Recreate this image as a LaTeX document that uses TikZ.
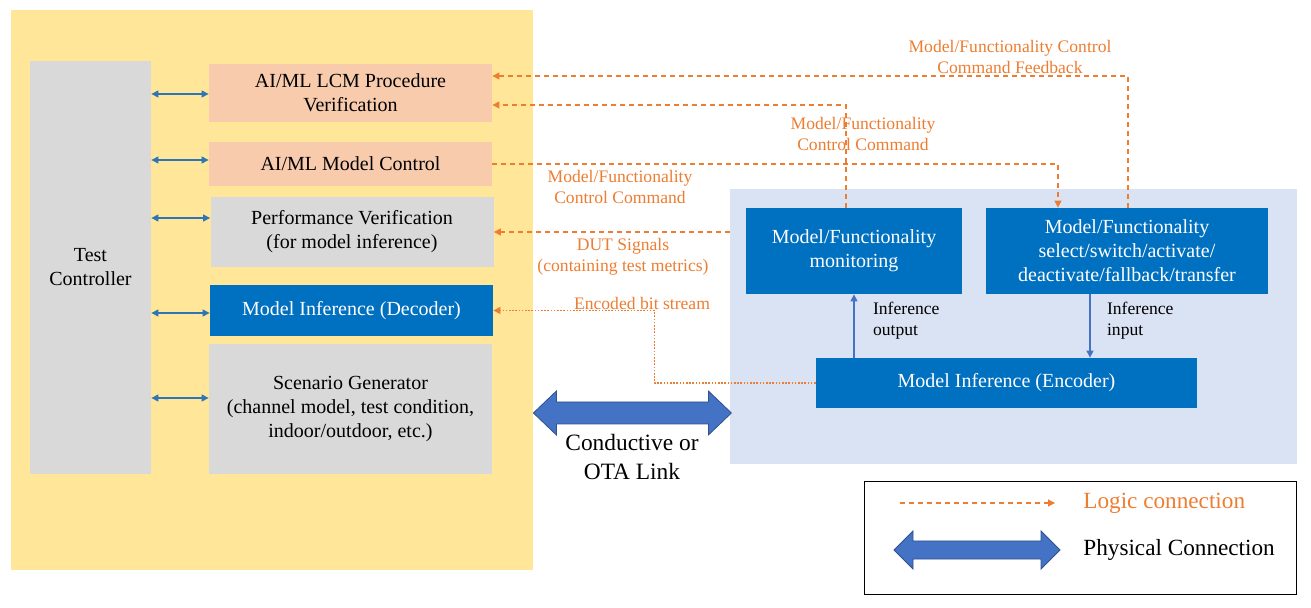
\documentclass[tikz,border=0pt]{standalone}
\usepackage{fontspec}
\setmainfont{Liberation Serif}
\usetikzlibrary{arrows.meta}

\definecolor{panelyellow}{HTML}{FFE699}
\definecolor{panelblue}{HTML}{DAE3F3}
\definecolor{boxpink}{HTML}{F8CBAD}
\definecolor{boxgray}{HTML}{D9D9D9}
\definecolor{boxblue}{HTML}{0070C0}
\definecolor{logicorange}{HTML}{ED7D31}
\definecolor{linkblue}{HTML}{2E75B6}
\definecolor{fatblue}{HTML}{4472C4}
\definecolor{fatedge}{HTML}{2F528F}

\begin{document}
\begin{tikzpicture}[x=0.5pt,y=-0.5pt,
    box/.style={inner sep=0pt, align=center, font=\fontsize{10}{12}\selectfont},
    pinkbox/.style={box, fill=boxpink, minimum width=141.5pt},
    graybox/.style={box, fill=boxgray, minimum width=141.5pt},
    bluebox/.style={box, fill=boxblue, text=white},
    orangetext/.style={align=center, text=logicorange, font=\fontsize{8.8}{10.3}\selectfont},
    blacktext/.style={align=left, font=\fontsize{8.8}{10.5}\selectfont},
    linkarrow/.style={linkblue, line width=0.6pt, {Triangle[length=3.5pt,width=3.5pt]}-{Triangle[length=3.5pt,width=3.5pt]}},
    logic/.style={logicorange, line width=0.6pt, dash pattern=on 2.5pt off 2pt, -{Triangle[length=3.5pt,width=3.5pt]}},
    bitlogic/.style={logicorange, line width=0.6pt, dash pattern=on 0.8pt off 0.8pt, -{Triangle[length=3.5pt,width=3.5pt]}},
    infarrow/.style={fatblue, line width=0.6pt, -{Triangle[length=3.5pt,width=3.5pt]}},
    fatarrow/.style={fill=fatblue, draw=fatedge, line width=0.4pt, line join=miter}]

\useasboundingbox (0,0) rectangle (1311,608);

% panels
\node[fill=panelyellow, minimum width=261pt, minimum height=280pt, inner sep=0pt] (yel) at (272,290) {};
\node[fill=panelblue, minimum width=283.5pt, minimum height=137.5pt, inner sep=0pt] (panel) at (1013.5,326.5) {};

% test equipment side
\node[box, fill=boxgray, minimum width=60.5pt, minimum height=206.5pt] (tc) at (90.5,267.5) {Test\\Controller};
\node[pinkbox, minimum height=29pt] (lcm) at (350.5,93) {AI/ML LCM Procedure\\Verification};
\node[pinkbox, minimum height=22pt] (ctrl) at (350.5,164) {AI/ML Model Control};
\node[graybox, minimum height=35pt] (perf) at (352,232) {Performance Verification\\(for model inference)};
\node[bluebox, minimum width=141.5pt, minimum height=25.5pt] (dec) at (351.5,310.5) {Model Inference (Decoder)};
\node[graybox, minimum height=65pt] (scen) at (350.5,409) {Scenario Generator\\(channel model, test condition,\\indoor/outdoor, etc.)};

\foreach \n/\y in {lcm/94,ctrl/160,perf/218,dec/313,scen/398}
    \draw[linkarrow] (tc.east |- 0,\y) -- (\n.west |- 0,\y);

% DUT side
\node[bluebox, minimum width=108pt, minimum height=43pt] (mon) at (854,251) {Model/Functionality\\monitoring};
\node[bluebox, minimum width=141pt, minimum height=43pt] (sel) at (1127,251) {Model/Functionality\\select/switch/activate/\\deactivate/fallback/transfer};
\node[bluebox, minimum width=190.5pt, minimum height=25pt] (enc) at (1006.5,383) {Model Inference (Encoder)};

\draw[infarrow] (enc.north -| mon.south) -- (mon.south);
\draw[infarrow] ([xshift=-18.5pt]sel.south) -- ([xshift=-18.5pt]sel.south |- enc.north);
\node[blacktext, anchor=west] (infout) at (866,321) {Inference\\output};
\node[blacktext, anchor=west] (infin) at (1100,321) {Inference\\input};

% logic connections
\draw[logic] ([xshift=0.5pt]sel.north) |- ([yshift=8.5pt]lcm.east);
\draw[logic] ([xshift=-4pt]mon.north) |- ([yshift=-6pt]lcm.east);
\draw[logic] (ctrl.east) -| ([xshift=-34.5pt]sel.north);
\draw[logic] (panel.west |- perf.east) -- (perf.east);
\draw[bitlogic] (enc.west) -| ([xshift=80.5pt]dec.east) -- (dec.east);

\node[orangetext] (fbklabel) at (1010,57) {Model/Functionality Control\\Command Feedback};
\node[orangetext] (cmdlabel) at (863,134) {Model/Functionality\\Control Command};
\node[orangetext] (ctrllabel) at (620,187) {Model/Functionality\\Control Command};
\node[orangetext] (dutlabel) at (623,257) {DUT Signals\\(containing test metrics)};
\node[orangetext] (bitlabel) at (642,303) {Encoded bit stream};

% physical link
\draw[fatarrow] (yel.east |- 0,413) -- ++(23,-22) -- ++(0,11) -- ++(152,0) -- ++(0,-11)
    -- ++(23,22) -- ++(-23,22) -- ++(0,-11) -- ++(-152,0) -- ++(0,11) -- cycle;
\node[align=center, font=\fontsize{11.7}{14.5}\selectfont] (linklabel) at (632,457) {Conductive or\\OTA Link};

% legend
\node[draw=black, line width=0.5pt, minimum width=216pt, minimum height=56pt, inner sep=0pt] (legend) at (1080,538) {};
\node[anchor=west, text=logicorange, font=\fontsize{11.6}{14}\selectfont, inner sep=0pt] (logictext) at (1083,503) {Logic connection};
\node[anchor=west, font=\fontsize{11.6}{14}\selectfont, inner sep=0pt] (phystext) at (1083,550) {Physical Connection};
\coordinate (lgstart) at (900,503);
\draw[logic] (lgstart) -- ([xshift=-14pt]logictext.west);
\draw[fatarrow] (894,550) -- ++(19,-19) -- ++(0,10) -- ++(128,0) -- ++(0,-10)
    -- ++(19,19) -- ++(-19,19) -- ++(0,-10) -- ++(-128,0) -- ++(0,10) -- cycle;
\end{tikzpicture}
\end{document}
